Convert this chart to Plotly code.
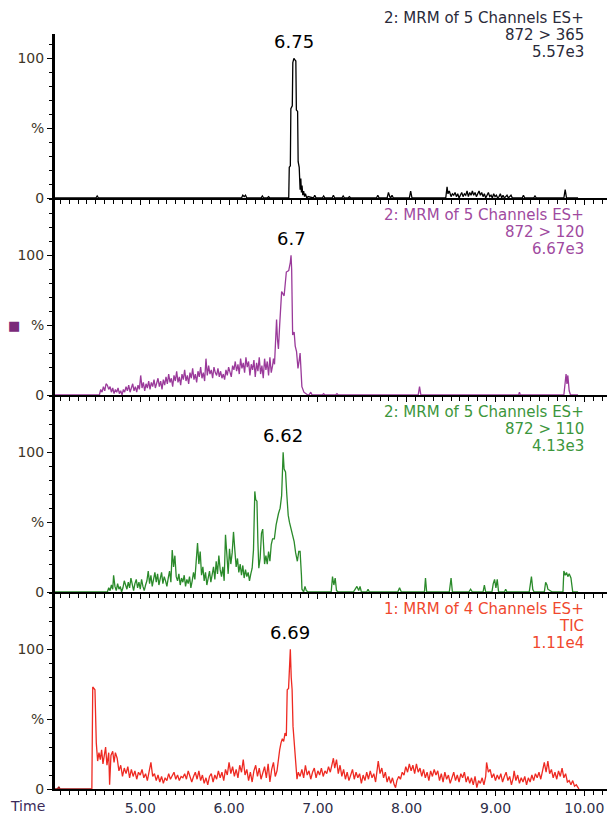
import plotly.graph_objects as go
from plotly.subplots import make_subplots

# ---------------- data (retention time in min, intensity in %) ----------------
# Panel 1: 872 > 365 (black)
t_365 = [4.04, 4.50, 4.515, 4.53, 6.14, 6.155, 6.17, 6.185, 6.20, 6.36,
         6.375, 6.39, 6.43, 6.445, 6.46, 6.66, 6.672, 6.678, 6.69, 6.696,
         6.712, 6.718, 6.73, 6.74, 6.752, 6.758, 6.772, 6.778, 6.79, 6.80,
         6.808, 6.815, 6.822, 6.83, 6.84, 6.85, 6.86, 6.875, 6.89, 6.95,
         6.965, 6.98, 7.05, 7.065, 7.08, 7.16, 7.175, 7.19, 7.27, 7.285,
         7.30, 7.34, 7.355, 7.37, 7.66, 7.675, 7.69, 7.78, 7.795, 7.81,
         7.82, 7.835, 7.85, 8.03, 8.045, 8.06, 8.44, 8.455, 8.465, 8.48,
         8.50, 8.515, 8.53, 8.545, 8.56, 8.575, 8.59, 8.605, 8.62, 8.635,
         8.65, 8.665, 8.68, 8.695, 8.71, 8.725, 8.74, 8.755, 8.77, 8.785,
         8.80, 8.815, 8.83, 8.845, 8.86, 8.875, 8.89, 8.905, 8.92, 8.935,
         8.95, 8.965, 8.98, 8.995, 9.01, 9.025, 9.04, 9.055, 9.07, 9.085,
         9.10, 9.115, 9.13, 9.145, 9.16, 9.175, 9.19, 9.30, 9.315, 9.33,
         9.43, 9.445, 9.46, 9.77, 9.785, 9.80, 9.93]
i_365 = [0, 0, 1.5, 0, 0, 2, 1, 2, 0, 0,
         1.5, 0, 0, 1, 0, 0, 0, 22, 23, 64,
         66, 97, 100, 99, 98, 63, 62, 26, 22, 6,
         14, 4, 9, 2, 5, 1, 3, 0, 1, 0,
         2, 0, 0, 1.5, 0, 0, 2, 0, 0, 1.5,
         0, 0, 1, 0, 0, 2, 0, 0, 4, 1,
         0, 2, 0, 0, 5, 0, 0, 8, 3, 5,
         1, 3, 2, 4, 1, 3, 0, 2, 4, 1,
         3, 2, 5, 1, 4, 2, 5, 2, 4, 1,
         3, 5, 2, 4, 1, 3, 0, 2, 4, 1,
         2, 0, 3, 1, 2, 0, 1, 3, 0, 2,
         0, 1, 2, 0, 1, 2, 0, 0, 2, 0,
         0, 1.5, 0, 0, 6, 0, 0]

# Panel 2: 872 > 120 (purple)
t_120 = [4.04, 4.54,
         4.555, 4.57, 4.585, 4.60, 4.615, 4.63, 4.645, 4.66, 4.675, 4.69,
         4.705, 4.72, 4.735, 4.75, 4.765, 4.78, 4.795, 4.81, 4.825, 4.84,
         4.855, 4.87, 4.885, 4.90, 4.915, 4.93, 4.945, 4.96, 4.975, 4.99,
         5.005, 5.02, 5.035, 5.05, 5.065, 5.08, 5.095, 5.11, 5.125, 5.14,
         5.155, 5.17, 5.185, 5.20, 5.215, 5.23, 5.245, 5.26, 5.275, 5.29,
         5.305, 5.32, 5.335, 5.35, 5.365, 5.38, 5.395, 5.41, 5.425, 5.44,
         5.455, 5.47, 5.485, 5.50, 5.515, 5.53, 5.545, 5.56, 5.575, 5.59,
         5.605, 5.62, 5.635, 5.65, 5.665, 5.68, 5.695, 5.71, 5.725, 5.74,
         5.755, 5.77, 5.785, 5.80, 5.815, 5.83, 5.845, 5.86, 5.875, 5.89,
         5.905, 5.92, 5.935, 5.95, 5.965, 5.98, 5.995, 6.01, 6.025, 6.04,
         6.055, 6.07, 6.085, 6.10, 6.115, 6.13, 6.145, 6.16, 6.175, 6.19,
         6.205, 6.22, 6.235, 6.25, 6.265, 6.28, 6.295, 6.31, 6.325, 6.34,
         6.355, 6.37, 6.385, 6.40, 6.415, 6.43, 6.445, 6.46, 6.475, 6.49,
         6.50, 6.512, 6.535, 6.545, 6.556, 6.57, 6.592, 6.61, 6.62, 6.645,
         6.672, 6.69, 6.698, 6.705, 6.716, 6.733, 6.745, 6.76, 6.776, 6.79,
         6.80, 6.82, 6.843, 6.887, 6.90, 6.92, 6.935, 7.05, 7.065, 7.08,
         7.20, 7.215, 7.23, 8.13, 8.145, 8.16, 9.26, 9.27, 9.28, 9.77,
         9.785, 9.795, 9.805, 9.815, 9.83, 9.845, 9.93]
i_120 = [0, 0,
         4, 2, 6, 3, 8, 7, 4, 6, 2, 5,
         1, 4, 2, 5, 1, 3, 0, 4, 2, 6,
         3, 7, 2, 5, 8, 3, 6, 2, 7, 4,
         14, 5, 9, 3, 8, 5, 10, 4, 9, 6,
         11, 5, 9, 12, 6, 10, 4, 11, 7, 13,
         8, 15, 9, 12, 6, 14, 10, 17, 9, 13,
         7, 15, 11, 18, 10, 14, 8, 16, 12, 19,
         11, 15, 9, 17, 13, 20, 12, 16, 10, 26,
         14, 21, 15, 18, 12, 20, 16, 14, 19, 13,
         17, 12, 15, 11, 18, 14, 20, 16, 13, 21,
         18, 24, 17, 22, 15, 26, 19, 23, 16, 27,
         20, 24, 14, 22, 18, 25, 13, 23, 17, 27,
         15, 21, 12, 26, 18, 24, 14, 27, 16, 21,
         26, 22, 54, 40, 33, 50, 74, 72, 71, 88,
         89, 95, 100, 90, 43, 45, 35, 31, 19, 25,
         30, 6, 2, 0, 0, 2, 0, 0, 1, 0,
         0, 1, 0, 0, 6, 0, 0, 2, 0, 0,
         10, 15, 8, 14, 3, 0, 0]

# Panel 3: 872 > 110 (green)
t_110 = [4.04, 4.63,
         4.645, 4.66, 4.675, 4.69, 4.70, 4.715, 4.73, 4.745, 4.76, 4.775,
         4.79, 4.805, 4.82, 4.835, 4.85, 4.865, 4.88, 4.895, 4.91, 4.925,
         4.94, 4.955, 4.97, 4.985, 5.00, 5.015, 5.03, 5.045, 5.06, 5.075,
         5.09, 5.105, 5.12, 5.135, 5.15, 5.165, 5.18, 5.195, 5.21, 5.225,
         5.24, 5.255, 5.27, 5.285, 5.30, 5.315, 5.33, 5.345, 5.36, 5.375,
         5.39, 5.405, 5.42, 5.435, 5.45, 5.465, 5.48, 5.495, 5.51, 5.525,
         5.54, 5.555, 5.57, 5.585, 5.60, 5.615, 5.63, 5.645, 5.66, 5.675,
         5.69, 5.705, 5.72, 5.735, 5.75, 5.765, 5.78, 5.795, 5.81, 5.825,
         5.84, 5.855, 5.87, 5.885, 5.90, 5.915, 5.93, 5.945, 5.96, 5.975,
         5.99, 6.005, 6.02, 6.035, 6.05, 6.065, 6.08, 6.095, 6.11, 6.125,
         6.14, 6.155, 6.17, 6.185, 6.20, 6.215, 6.23, 6.245, 6.26, 6.275,
         6.29, 6.30, 6.314, 6.325, 6.335, 6.35, 6.365, 6.379, 6.39, 6.40,
         6.415, 6.43, 6.445, 6.46, 6.475, 6.49, 6.51, 6.53, 6.556, 6.575,
         6.592, 6.60, 6.609, 6.62, 6.636, 6.65, 6.666, 6.68, 6.70, 6.715,
         6.733, 6.75, 6.769, 6.785, 6.80, 6.815, 6.821, 6.84, 6.855, 6.87,
         6.89, 7.15, 7.165, 7.18, 7.195, 7.21, 7.23, 7.40, 7.42, 7.44,
         7.46, 7.475, 7.49, 7.55, 7.565, 7.58, 7.90, 7.92, 7.94, 8.20,
         8.212, 8.225, 8.48, 8.50, 8.515, 8.70, 8.72, 8.74, 8.86, 8.875,
         8.89, 8.96, 8.975, 8.99, 9.005, 9.02, 9.035, 9.10, 9.115, 9.13,
         9.38, 9.395, 9.405, 9.42, 9.435, 9.55, 9.565, 9.58, 9.59, 9.64,
         9.76, 9.77, 9.785, 9.80, 9.815, 9.83, 9.85, 9.87, 9.93]
i_110 = [0, 0,
         3, 1, 5, 2, 12, 4, 1, 6, 2, 4,
         0, 3, 8, 5, 2, 7, 3, 10, 4, 1,
         6, 9, 3, 7, 2, 9, 4, 1, 5, 8,
         15, 6, 12, 4, 9, 14, 7, 13, 5, 10,
         14, 6, 11, 8, 4, 10, 15, 7, 30, 18,
         26, 11, 8, 13, 5, 10, 7, 12, 4, 9,
         6, 11, 3, 8, 14, 9, 27, 35, 20, 29,
         12, 18, 8, 14, 5, 10, 15, 7, 12, 18,
         9, 22, 13, 26, 16, 11, 18, 8, 41, 22,
         13, 31, 20, 28, 43, 30, 18, 24, 14, 20,
         12, 19, 10, 16, 11, 14, 8, 13, 17, 30,
         72, 66, 65, 35, 17, 24, 42, 45, 30, 20,
         26, 20, 29, 22, 34, 38, 38, 48, 56, 60,
         69, 82, 100, 88, 86, 70, 55, 50, 45, 40,
         36, 28, 22, 29, 29, 12, 2, 0, 4, 1,
         0, 0, 11, 5, 10, 1, 0, 0, 2, 4,
         1, 4, 0, 0, 2, 0, 0, 3, 0, 0,
         10, 0, 0, 10, 0, 0, 2, 0, 0, 5,
         0, 0, 6, 9, 3, 9, 0, 0, 2, 0,
         0, 6, 11, 2, 0, 0, 7, 5, 2, 0,
         0, 15, 12, 14, 11, 13, 10, 0, 0]

# Panel 4: TIC (red); flat lead-in before the first scan (dark red)
t_tic_lead = [4.04, 4.07, 4.083, 4.095, 4.455]
i_tic_lead = [0, 0, 1.5, 0, 0]
t_tic = [4.455, 4.465, 4.49, 4.505, 4.52, 4.535, 4.55, 4.565, 4.58, 4.595,
         4.61, 4.625, 4.645, 4.655, 4.67, 4.69, 4.705, 4.72, 4.74, 4.76,
         4.78, 4.80, 4.82, 4.84, 4.86, 4.88, 4.90, 4.92, 4.94, 4.96,
         4.98, 5.00, 5.02, 5.04, 5.06, 5.08, 5.10, 5.12, 5.14, 5.16,
         5.18, 5.20, 5.22, 5.24, 5.26, 5.28, 5.30, 5.32, 5.34, 5.36,
         5.38, 5.40, 5.42, 5.44, 5.46, 5.48, 5.50, 5.52, 5.54, 5.56,
         5.58, 5.60, 5.62, 5.64, 5.66, 5.68, 5.70, 5.72, 5.74, 5.76,
         5.78, 5.80, 5.82, 5.84, 5.86, 5.88, 5.90, 5.92, 5.94, 5.96,
         5.98, 6.00, 6.02, 6.04, 6.06, 6.08, 6.10, 6.12, 6.14, 6.16,
         6.18, 6.20, 6.22, 6.24, 6.26, 6.28, 6.30, 6.32, 6.34, 6.36,
         6.38, 6.40, 6.42, 6.44, 6.46, 6.48, 6.50, 6.52, 6.54, 6.555,
         6.57, 6.585, 6.60, 6.615, 6.63, 6.645, 6.655, 6.67, 6.69, 6.70,
         6.71, 6.72, 6.735, 6.75, 6.765, 6.78, 6.80, 6.82, 6.84, 6.86,
         6.88, 6.90, 6.92, 6.94, 6.96, 6.98, 7.00, 7.02, 7.04, 7.06,
         7.08, 7.10, 7.12, 7.14, 7.16, 7.175, 7.19, 7.21, 7.23, 7.25,
         7.27, 7.29, 7.31, 7.33, 7.35, 7.37, 7.39, 7.41, 7.43, 7.45,
         7.47, 7.49, 7.51, 7.53, 7.55, 7.57, 7.59, 7.61, 7.63, 7.65,
         7.665, 7.68, 7.70, 7.72, 7.74, 7.76, 7.78, 7.80, 7.82, 7.84,
         7.86, 7.875, 7.89, 7.91, 7.93, 7.95, 7.97, 7.99, 8.01, 8.03,
         8.05, 8.07, 8.09, 8.11, 8.13, 8.15, 8.17, 8.19, 8.21, 8.23,
         8.25, 8.27, 8.29, 8.31, 8.33, 8.35, 8.37, 8.39, 8.41, 8.43,
         8.45, 8.47, 8.49, 8.51, 8.53, 8.55, 8.57, 8.59, 8.61, 8.63,
         8.65, 8.67, 8.69, 8.71, 8.73, 8.75, 8.77, 8.79, 8.81, 8.83,
         8.85, 8.87, 8.89, 8.90, 8.92, 8.94, 8.96, 8.98, 9.00, 9.02,
         9.04, 9.06, 9.08, 9.10, 9.12, 9.14, 9.16, 9.18, 9.20, 9.21,
         9.23, 9.25, 9.27, 9.29, 9.31, 9.33, 9.35, 9.37, 9.39, 9.41,
         9.43, 9.45, 9.47, 9.49, 9.51, 9.53, 9.55, 9.57, 9.59, 9.61,
         9.63, 9.65, 9.67, 9.69, 9.71, 9.73, 9.75, 9.77, 9.79, 9.81,
         9.83, 9.85, 9.87, 9.89, 9.91, 9.93, 9.94]
i_tic = [0, 73, 71, 33, 20, 26, 21, 28, 18, 25,
         30, 17, 26, 3, 24, 27, 19, 26, 22, 13,
         17, 9, 15, 11, 16, 8, 14, 9, 13, 7,
         12, 10, 14, 8, 11, 6, 13, 19, 9, 11,
         6, 10, 5, 9, 4, 8, 6, 11, 7, 10,
         12, 7, 10, 6, 9, 8, 11, 7, 13, 9,
         5, 9, 12, 7, 13, 6, 10, 4, 8, 3,
         9, 11, 5, 10, 7, 13, 8, 12, 6, 14,
         10, 19, 11, 16, 9, 14, 8, 17, 12, 21,
         10, 14, 6, 12, 5, 13, 17, 9, 15, 7,
         12, 16, 8, 18, 5, 14, 19, 9, 13, 22,
         28, 33, 36, 34, 40, 38, 71, 72, 100, 80,
         71, 45, 30, 17, 7, 12, 9, 14, 8, 17,
         10, 13, 7, 12, 15, 8, 13, 10, 15, 9,
         13, 11, 16, 12, 18, 22, 15, 21, 11, 17,
         9, 14, 7, 12, 6, 11, 14, 7, 12, 8,
         11, 4, 10, 6, 12, 7, 13, 8, 11, 5,
         13, 20, 11, 15, 8, 12, 5, 9, 4, 8,
         3, 1, 6, 9, 7, 12, 10, 16, 12, 18,
         13, 17, 11, 18, 12, 15, 9, 14, 8, 12,
         6, 13, 9, 14, 10, 13, 6, 11, 5, 12,
         7, 10, 4, 9, 12, 6, 10, 5, 11, 8,
         12, 5, 9, 4, 8, 3, 9, 1, 6, 4,
         8, 3, 9, 19, 12, 14, 8, 11, 6, 10,
         7, 11, 5, 9, 12, 6, 9, 3, 8, 13,
         6, 10, 4, 8, 5, 9, 3, 8, 5, 10,
         6, 11, 8, 12, 7, 13, 19, 12, 20, 11,
         14, 8, 12, 7, 13, 9, 15, 8, 11, 5,
         6, 3, 6, 2, 3, 1, 0]

# Panel annotations
peak_times = [6.735, 6.698, 6.609, 6.69]
peak_labels = ["6.75", "6.7", "6.62", "6.69"]
header_lines = [
    ["2: MRM of 5 Channels ES+", "872 > 365", "5.57e3"],
    ["2: MRM of 5 Channels ES+", "872 > 120", "6.67e3"],
    ["2: MRM of 5 Channels ES+", "872 > 110", "4.13e3"],
    ["1: MRM of 4 Channels ES+", "TIC", "1.11e4"],
]
x_ticks = [5, 6, 7, 8, 9, 10]
x_tick_text = ["5.00", "6.00", "7.00", "8.00", "9.00", "10.00"]

# ---------------- figure ----------------
# (the page body adds an 8 px margin, so the figure is 8 px smaller each way)
line_colors = ["#000000", "#9a3a9a", "#2a8a2a", "#ee2a22"]
text_colors = ["#2a2a3a", "#a04aa0", "#3c963c", "#f0482e"]
series = [(t_365, i_365), (t_120, i_120), (t_110, i_110), (t_tic, i_tic)]

fig = make_subplots(rows=4, cols=1, vertical_spacing=0)

for k, (tt, yy) in enumerate(series):
    assert len(tt) == len(yy), (k, len(tt), len(yy))
    if k == 3:
        fig.add_trace(go.Scatter(x=t_tic_lead, y=i_tic_lead, mode="lines",
                                 line=dict(color="#9a1a1a", width=1.6),
                                 hoverinfo="skip"), row=4, col=1)
    fig.add_trace(go.Scatter(x=tt, y=yy, mode="lines",
                             line=dict(color=line_colors[k], width=1.3),
                             hoverinfo="skip"), row=k + 1, col=1)

plot_h = 781.0
baselines = [190, 387, 584, 781]
font_main = "DejaVu Sans, Arial, sans-serif"

for k in range(4):
    b = baselines[k]
    bottom = (plot_h - b) / plot_h
    if k == 0:
        top = (plot_h - 26) / plot_h
        yr = [0, 164 / 1.397]
    else:
        top = (plot_h - b + 197) / plot_h
        yr = [0, 141]
    xa = dict(domain=[0, 1], range=[4.04, 10.346], automargin=False,
              showgrid=False, zeroline=False,
              showline=True, linecolor="black", linewidth=2.2,
              ticks="outside", ticklen=5, tickwidth=1.2, tickcolor="black",
              tickmode="array", tickvals=x_ticks, ticktext=x_tick_text,
              showticklabels=(k == 3),
              tickfont=dict(family=font_main, size=14, color="#2e2e48"),
              minor=dict(ticks="outside", ticklen=4, tickwidth=1.2,
                         tickcolor="black", tickmode="linear", tick0=4.0,
                         dtick=0.1, showgrid=False))
    ya = dict(domain=[bottom, top], range=yr, automargin=False,
              showgrid=False, zeroline=False,
              showline=True, linecolor="black", linewidth=3,
              ticks="outside", ticklen=5, tickwidth=1.2, tickcolor="black",
              tickmode="array", tickvals=[0, 50, 100],
              ticktext=["0", "%", "100"],
              tickfont=dict(family=font_main, size=14, color="#3e3628"),
              minor=dict(ticks="outside", ticklen=3, tickwidth=1.2,
                         tickcolor="black", tickmode="linear", tick0=0,
                         dtick=10, showgrid=False))
    sfx = "" if k == 0 else str(k + 1)
    fig.layout["xaxis" + sfx].update(xa)
    fig.layout["yaxis" + sfx].update(ya)

annotations = []
for k in range(4):
    b = baselines[k]
    xr = "x" if k == 0 else "x" + str(k + 1)
    yr_ = "y" if k == 0 else "y" + str(k + 1)
    annotations.append(dict(x=peak_times[k], y=156 / 1.397, xref=xr, yref=yr_,
                            text=peak_labels[k], showarrow=False,
                            xanchor="center", yanchor="middle",
                            font=dict(family=font_main, size=18, color="black")))
    for j, line in enumerate(header_lines[k]):
        py = (plot_h - (b - 180 + 17 * j)) / plot_h
        annotations.append(dict(x=10.02, y=py, xref=xr, yref="paper",
                                text=line, showarrow=False,
                                xanchor="right", yanchor="middle",
                                font=dict(family=font_main, size=15,
                                          color=text_colors[k])))

# small purple marker next to the % label of the 872 > 120 trace
annotations.append(dict(x=-0.073, y=50, xref="paper", yref="y2", text="■",
                        showarrow=False, xanchor="center", yanchor="middle",
                        font=dict(family=font_main, size=13, color="#7a2a7a")))
# axis title "Time"
annotations.append(dict(x=-0.05, y=-0.0215, xref="paper", yref="paper",
                        text="Time", showarrow=False, xanchor="center",
                        yanchor="middle",
                        font=dict(family=font_main, size=14, color="#3a2a5a")))

fig.update_layout(width=607, height=807,
                  margin=dict(l=47, r=0, t=0, b=26, autoexpand=False),
                  paper_bgcolor="white", plot_bgcolor="white",
                  showlegend=False, annotations=annotations)

fig.write_html("out.html")
